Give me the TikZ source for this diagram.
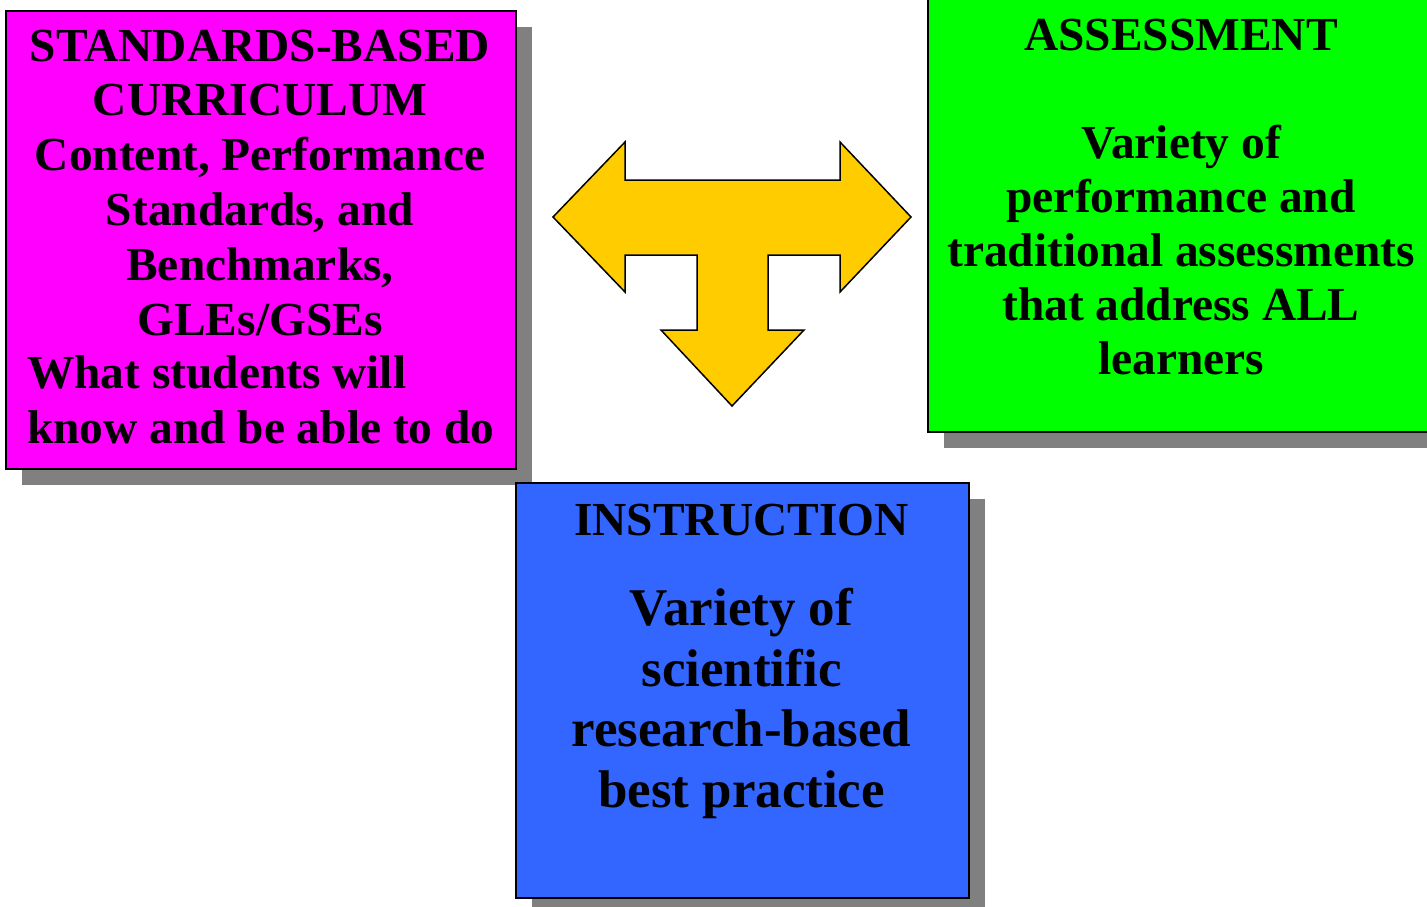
\documentclass[tikz,border=0pt]{standalone}
\usepackage{fontspec}
\setmainfont{Liberation Serif}
\usepackage{tikz}
\usetikzlibrary{shadows}
\definecolor{curric}{HTML}{FF00FF}
\definecolor{assess}{HTML}{00FF00}
\definecolor{instr}{HTML}{3366FF}
\definecolor{arrowfill}{HTML}{FFCC00}
\definecolor{shadowgray}{HTML}{808080}

\begin{document}
\begin{tikzpicture}[x=0.5pt, y=-0.5pt, line width=1pt]
\tikzstyle{box} = [draw=black, anchor=north west, inner sep=0pt,
	drop shadow={shadow xshift=8pt, shadow yshift=-8pt, fill=shadowgray, opacity=1}]
\tikzstyle{txt} = [inner sep=0pt, align=center, font=\bfseries\fontsize{23.7}{27.4}\selectfont]
\useasboundingbox (0,0) rectangle (1427,906);
\clip (0,0) rectangle (1427,906);
% the three boxes
\node[box, fill=curric, minimum width=255pt, minimum height=229pt] (cur) at (5,10) {};
\node[box, fill=assess, minimum width=262pt, minimum height=216.5pt] (ass) at (927,-2) {};
\node[box, fill=instr, minimum width=226.5pt, minimum height=207.5pt] (ins) at (515,482) {};
% texts (base = baseline of the last line)
\node[txt, anchor=base] (curtitle) at (260,335) {STANDARDS-BASED\\CURRICULUM\\Content, Performance\\Standards, and\\Benchmarks,\\GLEs/GSEs};
\node[txt, anchor=base west, align=left] (curgoal) at (26,443) {What students will\\know and be able to do};
\node[txt, anchor=base] (asstitle) at (1181,50) {ASSESSMENT};
\node[txt, anchor=base, font=\bfseries\fontsize{23.7}{26.9}\selectfont] (assbody) at (1181,374) {Variety of\\performance and\\traditional assessments\\that address ALL\\learners};
\node[txt, anchor=base] (institle) at (741.5,535) {INSTRUCTION};
\node[txt, anchor=base, font=\bfseries\fontsize{26.5}{30.2}\selectfont] (insbody) at (741.5,807) {Variety of\\scientific\\research-based\\best practice};
% three-way arrow
\draw[fill=arrowfill, line width=0.75pt, line join=miter]
	(553,217) -- (625,142) -- (625,180) -- (840,180) -- (840,142) -- (911,217)
	-- (840,292) -- (840,255) -- (768,255) -- (768,330) -- (804,330) -- (732,406)
	-- (661,330) -- (697,330) -- (697,255) -- (625,255) -- (625,292) -- cycle;
\end{tikzpicture}
\end{document}
